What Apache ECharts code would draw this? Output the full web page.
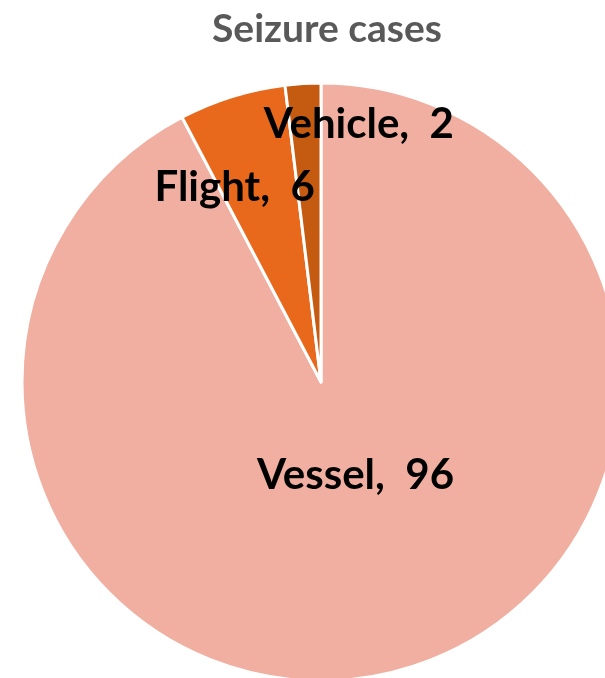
<!DOCTYPE html>
<html><head><meta charset="utf-8">
<script src="https://cdn.jsdelivr.net/npm/echarts@6/dist/echarts.min.js"></script>
<style>html,body{margin:0;padding:0;background:#fff}#c{width:605px;height:678px}</style>
</head><body><div id="c"></div>
<script>
const categories = ['Vessel', 'Flight', 'Vehicle'];
const values = [96, 6, 2];
const colors = ['#F0AFA0', '#E8691B', '#C55A11'];
const titleText = 'Seizure cases';

const labelShift = [[-2, -55], [-41, -49], [47, -105]];

const chart = echarts.init(document.getElementById('c'));
chart.setOption({
  animation: false,
  title: {
    text: titleText, left: 322, top: 5, textAlign: 'center',
    textStyle: { fontFamily: 'Lato', fontWeight: 'bold', fontSize: 39, color: '#595959' }
  },
  series: [{
    type: 'pie',
    center: [321, 382],
    radius: [0, 299],
    startAngle: 90,
    clockwise: true,
    data: categories.map((c, i) => ({ name: c, value: values[i], itemStyle: { color: colors[i] } })),
    itemStyle: { borderColor: '#fff', borderWidth: 3 },
    label: {
      show: true, position: 'inside', formatter: '{b},  {c}',
      fontFamily: 'Lato', fontWeight: 'bold', fontSize: 42, color: '#000'
    },
    labelLine: { show: false },
    labelLayout: function (p) { return { dx: labelShift[p.dataIndex][0], dy: labelShift[p.dataIndex][1] }; }
  }]
});
</script></body></html>
